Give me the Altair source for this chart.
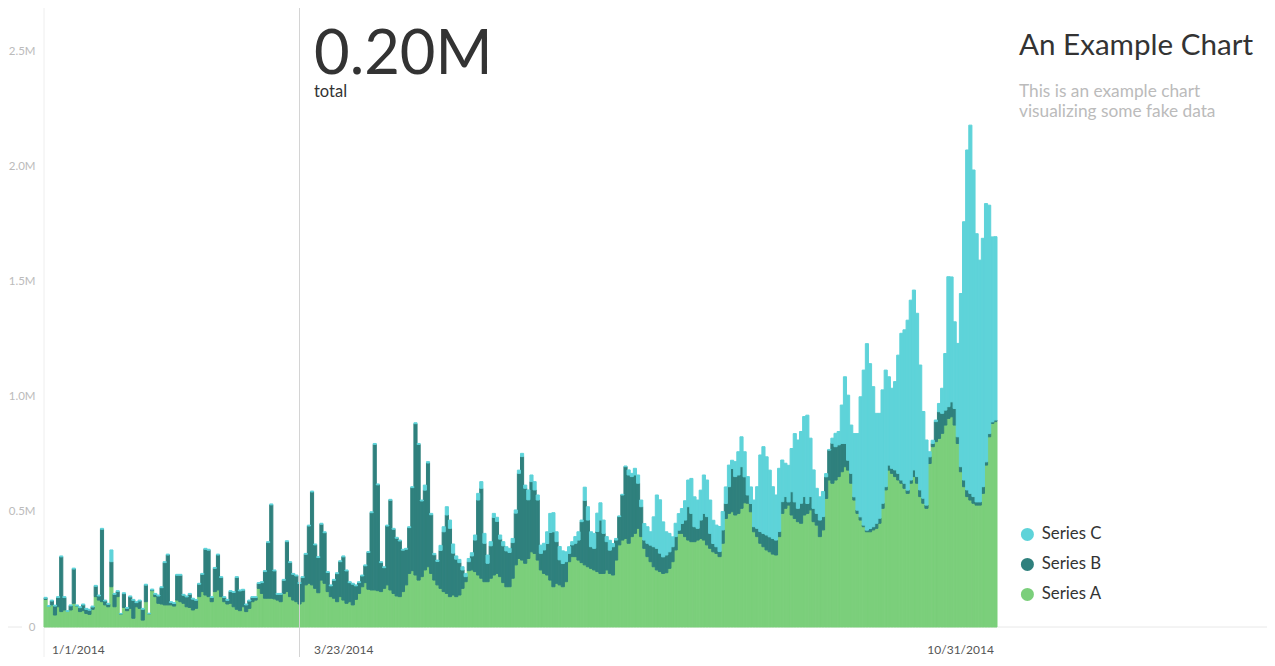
import altair as alt
import pandas as pd

# ---------------- data (values in thousands, daily from 2014-01-01) ----------------
START_DATE = "2014-01-01"

series_names = ["Series C", "Series B", "Series A"]
series_colors = ["#5ed3d9", "#2f807d", "#7bcf7b"]

series_a = [
    120, 90, 96, 52, 88, 67, 74, 68, 74, 103,
    92, 67, 71, 59, 55, 77, 132, 117, 110, 96,
    88, 175, 88, 132, 57, 85, 71, 81, 38, 88,
    81, 30, 110, 58, 158, 132, 103, 100, 96, 96,
    96, 91, 117, 110, 103, 88, 85, 74, 81, 132,
    154, 139, 132, 110, 154, 161, 132, 110, 100, 103,
    88, 77, 71, 88, 67, 81, 110, 117, 168, 146,
    125, 125, 125, 122, 117, 110, 146, 154, 132, 117,
    110, 100, 110, 183, 190, 183, 168, 149, 204, 190,
    154, 132, 125, 110, 132, 117, 103, 110, 96, 120,
    146, 175, 193, 164, 161, 161, 158, 154, 168, 183,
    161, 146, 135, 132, 154, 183, 233, 245, 226, 204,
    219, 248, 262, 233, 204, 183, 168, 154, 146, 132,
    139, 132, 139, 168, 197, 245, 248, 241, 226, 212,
    197, 197, 212, 226, 233, 219, 193, 175, 175, 212,
    270, 298, 291, 277, 298, 327, 320, 291, 248, 233,
    226, 204, 175, 190, 183, 175, 197, 284, 306, 306,
    291, 280, 270, 262, 255, 248, 241, 233, 233, 248,
    233, 226, 291, 357, 378, 385, 364, 393, 407, 429,
    393, 342, 306, 284, 262, 248, 241, 233, 236, 255,
    284, 335, 407, 407, 393, 378, 371, 371, 378, 385,
    378, 357, 342, 327, 320, 306, 364, 472, 494, 501,
    487, 494, 516, 540, 538, 501, 414, 393, 364, 349,
    335, 327, 317, 313, 393, 494, 516, 530, 487, 472,
    458, 451, 487, 494, 509, 458, 443, 393, 422, 559,
    639, 625, 639, 654, 675, 697, 682, 625, 552, 494,
    465, 436, 414, 414, 422, 429, 451, 516, 596, 682,
    668, 654, 639, 625, 603, 581, 625, 654, 625, 567,
    538, 516, 711, 784, 806, 820, 842, 878, 907, 914,
    878, 798, 675, 610, 567, 552, 538, 530, 530, 581,
    704, 827, 885, 893,
]

series_b = [
    5, 0, 17, 39, 40, 238, 54, 0, 18, 149,
    0, 17, 25, 18, 18, 10, 45, 18, 315, 17,
    11, 109, 54, 22, 0, 60, 10, 50, 78, 18,
    32, 47, 72, 0, 3, 10, 32, 71, 184, 217,
    10, 11, 108, 115, 35, 43, 57, 47, 35, 54,
    75, 199, 202, 18, 101, 152, 83, 18, 16, 51,
    62, 138, 86, 72, 29, 32, 18, 11, 21, 47,
    116, 242, 406, 122, 25, 32, 57, 217, 148, 112,
    112, 89, 105, 133, 249, 404, 189, 153, 243, 220,
    83, 47, 78, 122, 152, 188, 141, 83, 90, 59,
    47, 47, 73, 160, 336, 633, 460, 126, 90, 256,
    390, 279, 251, 242, 180, 155, 199, 361, 658, 590,
    329, 347, 451, 255, 110, 102, 165, 260, 341, 297,
    182, 163, 141, 80, 22, 39, 61, 137, 326, 391,
    167, 80, 141, 250, 226, 163, 160, 156, 149, 155,
    225, 370, 450, 326, 255, 305, 276, 261, 72, 102,
    137, 207, 239, 181, 109, 101, 87, 36, 51, 58,
    87, 178, 280, 203, 94, 94, 174, 232, 174, 123,
    101, 123, 87, 123, 196, 312, 297, 261, 254, 196,
    130, 36, 58, 72, 87, 94, 80, 72, 77, 72,
    65, 58, 14, 43, 72, 145, 123, 65, 51, 80,
    116, 123, 65, 36, 29, 22, 58, 65, 116, 188,
    167, 167, 181, 113, 36, 36, 22, 36, 51, 58,
    65, 65, 68, 65, 22, 51, 51, 14, 101, 72,
    58, 87, 80, 43, 58, 58, 51, 72, 58, 94,
    130, 174, 145, 138, 123, 101, 43, 43, 14, 14,
    14, 7, 7, 14, 14, 22, 22, 22, 14, 22,
    22, 29, 29, 14, 22, 14, 14, 29, 29, 29,
    22, 14, 29, 14, 87, 116, 87, 65, 51, 65,
    72, 29, 22, 29, 29, 29, 29, 14, 14, 29,
    14, 14, 7, 7,
]

series_c = [
    4, 3, 4, 4, 4, 4, 4, 3, 4, 4,
    4, 4, 4, 4, 4, 4, 4, 4, 4, 4,
    4, 51, 4, 4, 2, 4, 4, 4, 4, 4,
    4, 4, 4, 2, 4, 4, 4, 4, 4, 4,
    4, 4, 4, 4, 4, 4, 4, 4, 4, 4,
    4, 4, 4, 4, 4, 4, 4, 4, 4, 4,
    4, 4, 4, 4, 4, 4, 4, 4, 4, 4,
    4, 4, 4, 4, 4, 4, 4, 4, 4, 4,
    4, 4, 4, 4, 4, 4, 4, 4, 4, 4,
    4, 4, 4, 4, 4, 4, 4, 4, 4, 4,
    4, 4, 4, 4, 4, 4, 4, 4, 4, 4,
    4, 4, 4, 4, 4, 4, 4, 4, 4, 4,
    4, 22, 6, 6, 6, 6, 22, 22, 36, 36,
    40, 14, 14, 14, 14, 14, 14, 22, 29, 29,
    43, 36, 18, 18, 18, 18, 18, 18, 18, 18,
    14, 14, 14, 14, 43, 29, 36, 22, 36, 29,
    51, 83, 83, 43, 58, 55, 43, 29, 14, 29,
    36, 7, 58, 58, 65, 65, 80, 75, 58, 22,
    43, 14, 7, 3, 3, 3, 22, 14, 29, 36,
    29, 72, 72, 58, 130, 232, 232, 152, 101, 80,
    43, 58, 72, 65, 84, 116, 152, 130, 123, 130,
    167, 159, 145, 101, 94, 109, 80, 72, 94, 36,
    65, 101, 130, 109, 80, 72, 116, 181, 333, 377,
    340, 290, 225, 196, 275, 181, 145, 159, 188, 297,
    297, 312, 348, 384, 254, 167, 109, 101, 109, 14,
    3, 22, 58, 58, 167, 290, 283, 210, 275, 333,
    522, 674, 811, 717, 609, 478, 456, 493, 507, 384,
    348, 384, 514, 638, 667, 739, 782, 782, 710, 543,
    377, 283, 22, 14, 7, 36, 109, 246, 565, 543,
    377, 406, 753, 1123, 1478, 1601, 1420, 1166, 1051, 1080,
    1123, 993, 804, 797,
]

x_label_dates = ["2014-01-01", "2014-03-23", "2014-10-31"]
x_label_texts = ["1/1/2014", "3/23/2014", "10/31/2014"]
hover_date = "2014-03-23"
hover_value_text = "0.20M"
hover_caption = "total"
title_text = "An Example Chart"
subtitle_lines = ["This is an example chart", "visualizing some fake data"]
y_tick_values = [0, 500000, 1000000, 1500000, 2000000, 2500000]

# ---------------- build table ----------------
dates = pd.date_range(START_DATE, periods=len(series_a), freq="D")
rows = []
for name, order, vals in [("Series A", 0, series_a), ("Series B", 1, series_b), ("Series C", 2, series_c)]:
    for d, v in zip(dates, vals):
        rows.append({"date": d, "date_end": d + pd.Timedelta(days=1),
                     "series": name, "order": order, "value": v * 1000})
df = pd.DataFrame(rows)

FONT = "Lato"
W, H = 953, 619
Y_MAX = 2691300

x_scale = alt.Scale(domain=[alt.DateTime(year=2014, month=1, date=1),
                            alt.DateTime(year=2014, month=11, date=1)], nice=False)
y_scale = alt.Scale(domain=[0, Y_MAX], nice=False, zero=False)
color_scale = alt.Scale(domain=series_names, range=series_colors)

bars = alt.Chart(df).transform_stack(
    stack="value", groupby=["date"], as_=["y0", "y1"],
    sort=[alt.SortField("order", order="ascending")],
).mark_rect(strokeWidth=1).encode(
    x=alt.X("date:T", scale=x_scale, axis=None),
    x2="date_end:T",
    y=alt.Y("y0:Q", scale=y_scale,
            axis=alt.Axis(values=y_tick_values,
                          labelExpr="datum.value == 0 ? '0' : format(datum.value / 1000000, '.1f') + 'M'",
                          grid=False, domain=False, ticks=False, title=None,
                          labelColor="#bbbbbb", labelFontSize=11.5, labelFont=FONT,
                          labelPadding=9)),
    y2="y1:Q",
    color=alt.Color("series:N", scale=color_scale,
                    legend=alt.Legend(title=None, orient="none", legendX=975, legendY=518,
                                      symbolType="circle", symbolSize=170, symbolStrokeWidth=0,
                                      symbolOpacity=1,
                                      labelFontSize=16.8, labelFont=FONT, labelColor="#333333",
                                      labelOffset=6, rowPadding=12)),
    stroke=alt.Stroke("series:N", scale=color_scale, legend=None),
)

# decorative lines
baseline_df = pd.DataFrame({"v": [0]})
base_rule = alt.Chart(baseline_df).mark_rule(color="#e8e8e8", strokeWidth=1).encode(
    y=alt.Y("v:Q", scale=y_scale), x=alt.value(0), x2=alt.value(W + 270))
base_rule_left = alt.Chart(baseline_df).mark_rule(color="#e8e8e8", strokeWidth=1).encode(
    y=alt.Y("v:Q", scale=y_scale), x=alt.value(-36), x2=alt.value(-22))
left_rule = alt.Chart(baseline_df).mark_rule(color="#eeeeee", strokeWidth=1).encode(
    x=alt.value(0), y=alt.value(0), y2=alt.value(H + 30))

hover_df = pd.DataFrame({"d": [pd.Timestamp(hover_date) + pd.Timedelta(hours=12)]})
hover_rule = alt.Chart(hover_df).mark_rule(color="#d4d4d4", strokeWidth=1).encode(
    x=alt.X("d:T", scale=x_scale), y=alt.value(0), y2=alt.value(H + 30))

# x labels
lab_df = pd.DataFrame({"d": pd.to_datetime(x_label_dates), "t": x_label_texts})
lab_style = dict(baseline="alphabetic", font=FONT, fontSize=12, color="#555555")
lab1 = alt.Chart(lab_df.iloc[[0]]).mark_text(align="left", dx=8, **lab_style).encode(
    x=alt.X("d:T", scale=x_scale), y=alt.value(H + 27), text="t:N")
lab2 = alt.Chart(lab_df.iloc[[1]]).mark_text(align="left", dx=16, **lab_style).encode(
    x=alt.X("d:T", scale=x_scale), y=alt.value(H + 27), text="t:N")
lab3 = alt.Chart(lab_df.iloc[[2]]).mark_text(align="right", dx=0, **lab_style).encode(
    x=alt.X("d:T", scale=x_scale), y=alt.value(H + 27), text="t:N")

# hover readout
big_df = pd.DataFrame({"t": [hover_value_text]})
big_num = alt.Chart(big_df).mark_text(align="left", baseline="alphabetic", font=FONT,
                                      fontSize=61.5, color="#333333").encode(
    x=alt.value(270), y=alt.value(66), text="t:N")
cap_df = pd.DataFrame({"t": [hover_caption]})
cap = alt.Chart(cap_df).mark_text(align="left", baseline="alphabetic", font=FONT,
                                  fontSize=16.5, color="#333333").encode(
    x=alt.value(270), y=alt.value(89), text="t:N")

# title block
title_df = pd.DataFrame({"t": [title_text]})
title = alt.Chart(title_df).mark_text(align="left", baseline="alphabetic", font=FONT,
                                      fontSize=29.6, color="#333333").encode(
    x=alt.value(975), y=alt.value(47), text="t:N")
sub_df1 = pd.DataFrame({"t": [subtitle_lines[0]]})
sub1 = alt.Chart(sub_df1).mark_text(align="left", baseline="alphabetic", font=FONT,
                                    fontSize=17.3, color="#bbbbbb").encode(
    x=alt.value(975), y=alt.value(89), text="t:N")
sub_df2 = pd.DataFrame({"t": [subtitle_lines[1]]})
sub2 = alt.Chart(sub_df2).mark_text(align="left", baseline="alphabetic", font=FONT,
                                    fontSize=17.3, color="#bbbbbb").encode(
    x=alt.value(975), y=alt.value(109), text="t:N")

chart = alt.layer(
    base_rule, base_rule_left, left_rule, bars, hover_rule,
    lab1, lab2, lab3, big_num, cap, title, sub1, sub2,
).properties(
    width=W, height=H,
    autosize=alt.AutoSizeParams(type="none"),
    padding={"left": 36, "top": 0, "right": 270, "bottom": 30},
    background="white",
).configure_view(stroke=None)

chart.save("out.html", embed_options={"renderer": "svg", "actions": False})
